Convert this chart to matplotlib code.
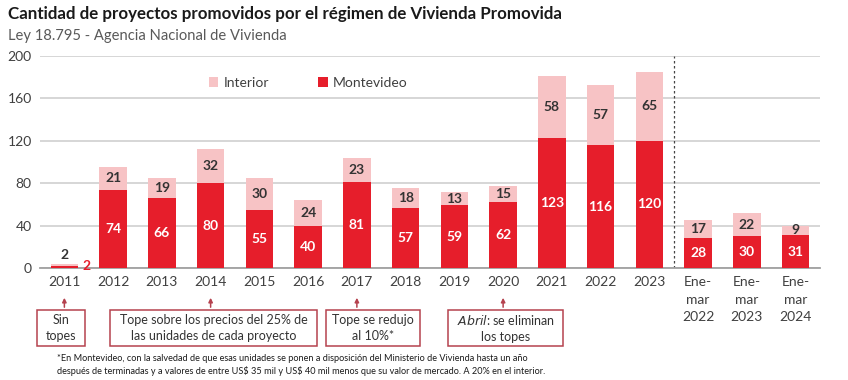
import matplotlib.pyplot as plt
import matplotlib.transforms as mtransforms
from matplotlib.patches import Rectangle
import numpy as np

plt.rcParams['font.family'] = ['Lato', 'DejaVu Sans']

# --- data ---
categories = ["2011", "2012", "2013", "2014", "2015", "2016", "2017", "2018",
              "2019", "2020", "2021", "2022", "2023",
              "Ene-\nmar\n2022", "Ene-\nmar\n2023", "Ene-\nmar\n2024"]
montevideo = [2, 74, 66, 80, 55, 40, 81, 57, 59, 62, 123, 116, 120, 28, 30, 31]
interior = [2, 21, 19, 32, 30, 24, 23, 18, 13, 15, 58, 57, 65, 17, 22, 9]
y_ticks = [0, 40, 80, 120, 160, 200]

RED = "#E61E2B"
PINK = "#F7C3C5"
BOX = "#B5424E"
TXT = "#404040"

fig = plt.figure(figsize=(8.48, 3.8), dpi=100)
ax = fig.add_axes([40 / 848, 1 - 268 / 380, 780 / 848, 212 / 380])
# pixel overlay for notes
ov = fig.add_axes([0, 0, 1, 1], zorder=-1)
ov.set_xlim(0, 848)
ov.set_ylim(380, 0)
ov.axis("off")

x = np.arange(len(categories))
w = 0.56
ax.bar(x, montevideo, w, color=RED, zorder=3, label="Montevideo")
ax.bar(x, interior, w, bottom=montevideo, color=PINK, zorder=3, label="Interior")

for i in range(len(x)):
    m, it = montevideo[i], interior[i]
    if i == 0:
        ax.text(x[i], m + it + 3, str(it), ha="center", va="bottom",
                fontsize=10, fontweight="bold", color="#333333")
        ax.text(x[i] + 0.38, m, str(m), ha="left", va="center",
                fontsize=10, fontweight="bold", color=RED)
        continue
    ax.text(x[i], m / 2, str(m), ha="center", va="center", fontsize=10,
            fontweight="bold", color="white", zorder=4)
    ax.text(x[i], m + it / 2, str(it), ha="center", va="center", fontsize=10,
            fontweight="bold", color="#333333", zorder=4)

ax.set_xlim(-0.5, 15.5)
ax.set_ylim(0, 200)
ax.set_yticks(y_ticks)
ax.grid(axis="y", color="#D0D0D0", lw=1.2, zorder=0)
ax.set_xticks(x)
ax.set_xticklabels(categories, va="top", linespacing=1.55)
ax.tick_params(axis="both", length=0, labelsize=10, labelcolor=TXT, pad=6)
for s in ["top", "right", "left"]:
    ax.spines[s].set_visible(False)
ax.spines["bottom"].set_color("#A0A0A0")
ax.spines["bottom"].set_linewidth(1.3)
ax.axvline(12.5, color="#444444", ls=(0, (2, 2)), lw=0.9, zorder=2)

handles, labels = ax.get_legend_handles_labels()
ax.legend(handles[::-1], labels[::-1], loc="upper left", bbox_to_anchor=(0.2, 0.96),
          ncol=2, frameon=False, fontsize=10, handlelength=0.7, handleheight=0.7,
          columnspacing=3.5, handletextpad=0.4, labelcolor=TXT)

fig.text(8 / 848, 1 - 14 / 380, "Cantidad de proyectos promovidos por el régimen de Vivienda Promovida",
         fontsize=12.2, fontweight="bold", color="#1a1a1a", va="center")
fig.text(8 / 848, 1 - 36 / 380, "Ley 18.795 - Agencia Nacional de Vivienda",
         fontsize=10.6, color="#595959", va="center")

# --- notes below axis ---
blend = mtransforms.blended_transform_factory(ax.transData, ov.transData)
notes = [
    (0, 37, 48, "Sin\ntopes"),
    (3, 110, 207, "Tope sobre los precios del 25% de\nlas unidades de cada proyecto"),
    (6, 326, 94, "Tope se redujo\nal 10%*"),
    (9, 448, 115, r"$\it{Abril}$: se eliminan" + "\nlos topes"),
]
for idx, bx, bw, txt in notes:
    ov.add_patch(Rectangle((bx, 310), bw, 36, fill=False, ec=BOX, lw=1.1))
    ov.text(bx + bw / 2, 328, txt, ha="center", va="center", fontsize=9,
            color="#333333", linespacing=1.35)
    ov.annotate("", xy=(idx, 295), xytext=(idx, 310), xycoords=blend, textcoords=blend,
                arrowprops=dict(arrowstyle="-|>", color=BOX, lw=1.1, mutation_scale=6))

ov.text(57, 365, "*En Montevideo, con la salvedad de que esas unidades se ponen a disposición del Ministerio de Vivienda hasta un año\n"
        "después de terminadas y a valores de entre US\\$ 35 mil y US\\$ 40 mil menos que su valor de mercado. A 20% en el interior.",
        fontsize=6.6, color="#1a1a1a", va="center", linespacing=1.45)

fig.savefig("out.png", dpi=100)
